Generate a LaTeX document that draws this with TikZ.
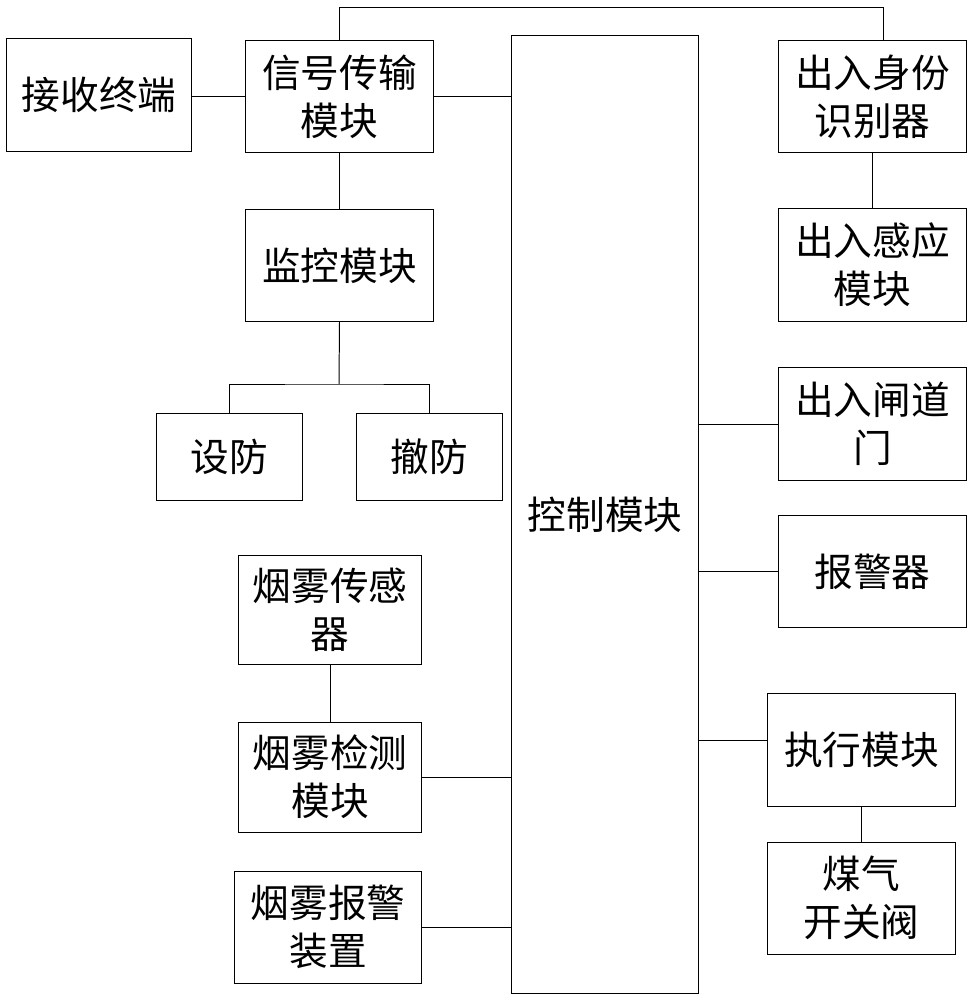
\documentclass[tikz,border=0pt]{standalone}
\usepackage{fontspec}
\newfontfamily\cjk{Noto Sans CJK SC}
\usepackage{tikz}
\usetikzlibrary{calc}
\usetikzlibrary{positioning}

\begin{document}
\begin{tikzpicture}[x=0.025cm,y=-0.025cm]
\tikzstyle{box}=[rectangle,align=center,draw,line width=0.7pt,inner sep=0pt,
                 font=\cjk\fontsize{27.5}{34}\selectfont,minimum width=4.675cm,minimum height=2.78cm]
\tikzstyle{link}=[line width=0.7pt]
\useasboundingbox (0,0) rectangle (969,1000);
\node[box,minimum width=4.6cm,minimum height=2.8cm] at(99, 95) (recv) {接收终端};
\node[box] at(339.5, 96.5) (sig) {信号传输\\模块};
\node[box] at(339.5, 265.5) (mon) {监控模块};
\node[box,minimum width=3.625cm,minimum height=2.175cm] at(229.5, 456.5) (arm) {设防};
\node[box,minimum width=3.625cm,minimum height=2.175cm] at(429.5, 456.5) (disarm) {撤防};
\node[box,minimum width=4.65cm,minimum height=23.925cm] at(605, 514.5) (ctrl) {控制模块};
\node[box] at(872.5, 96.5) (id) {出入身份\\识别器};
\node[box,minimum height=2.8cm] at(872.5, 265) (sense) {出入感应\\模块};
\node[box,minimum height=2.8cm] at(872.5, 424) (gate) {出入闸道\\门};
\node[box] at(872.5, 571.5) (alarm) {报警器};
\node[box,minimum height=2.825cm] at(861.5, 749.5) (exec) {执行模块};
\node[box,minimum height=2.8cm] at(861.5, 898) (gas) {煤气\\开关阀};
\node[box,minimum width=4.55cm,minimum height=2.725cm] at(330, 609.5) (smsens) {烟雾传感\\器};
\node[box,minimum width=4.55cm,minimum height=2.75cm] at(330, 777) (smdet) {烟雾检测\\模块};
\node[box,minimum width=4.65cm,minimum height=2.8cm] at(328, 927) (smalarm) {烟雾报警\\装置};
% connectors
\coordinate (bus) at (883, 7);
\coordinate (split) at (339, 384);
\draw[link] (sig.west) -- (sig.west -| recv.east);
\draw[link] (sig.east) -- (sig.east -| ctrl.west);
\draw[link] (sig.north) |- (bus) -- (bus |- id.north);
\draw[link] (sig) -- (mon);
\draw[link] (mon.south) -- (split);
\draw[link] (arm.north) |- (split) -| (disarm.north);
\draw[link] (id) -- (sense);
\draw[link] (gate.west) -- (gate.west -| ctrl.east);
\draw[link] (alarm.west) -- (alarm.west -| ctrl.east);
\draw[link] ([yshift=0.23cm]exec.west) -- ([yshift=0.23cm]exec.west -| ctrl.east);
\draw[link] (exec) -- (gas);
\draw[link] (smsens) -- (smdet);
\draw[link] (smdet.east) -- (smdet.east -| ctrl.west);
\draw[link] (smalarm.east) -- (smalarm.east -| ctrl.west);
\end{tikzpicture}
\end{document}
